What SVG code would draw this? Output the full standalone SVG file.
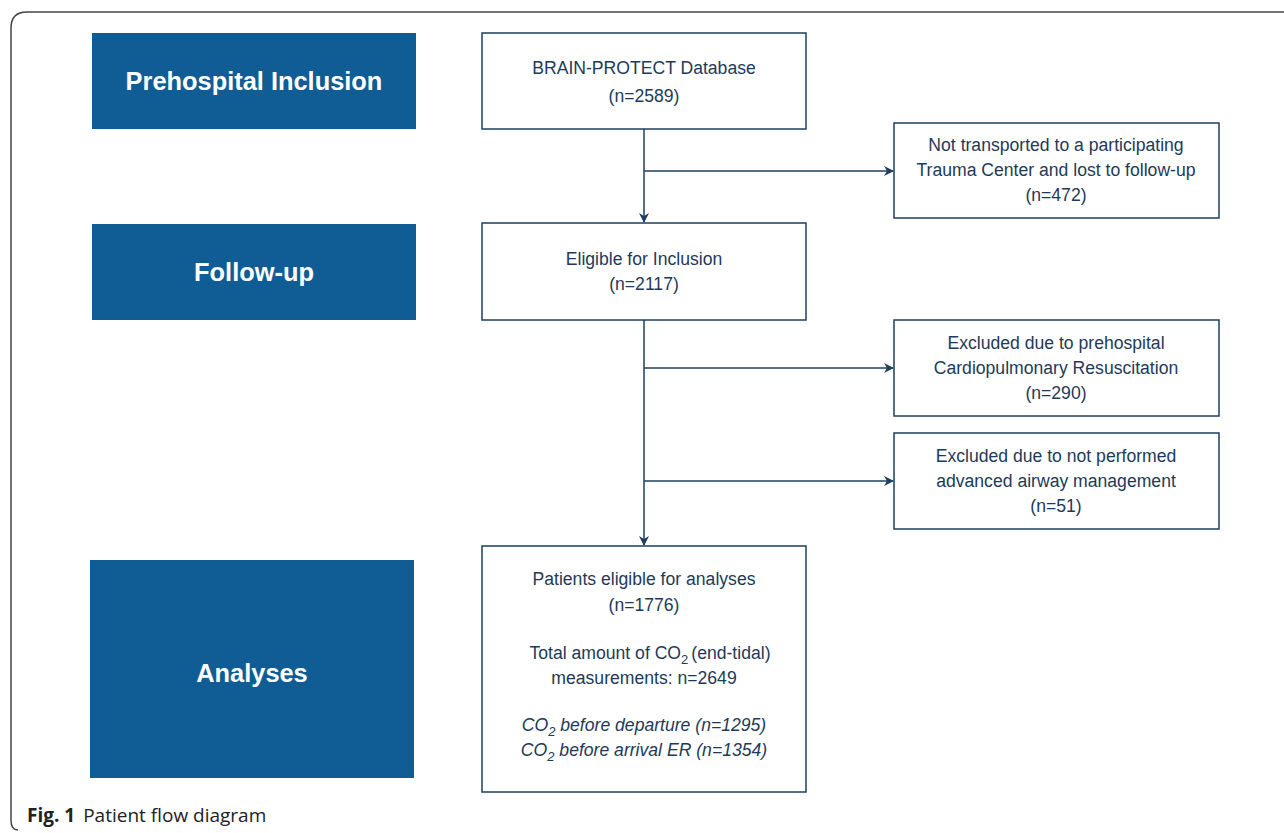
<svg xmlns="http://www.w3.org/2000/svg" width="1284" height="833" viewBox="0 0 1284 833">
<defs>
<style>
.phase{fill:#0f5d94}
.phase-t{font-family:"Liberation Sans",Arial,sans-serif;font-weight:bold;font-size:25.4px;fill:#ffffff;text-anchor:middle}
.box{fill:#ffffff;stroke:#1d3f60;stroke-width:1.5}
.t{font-family:"Liberation Sans",Arial,sans-serif;font-size:17.6px;fill:#1e3a58;text-anchor:middle}
.it{font-style:italic}
.conn{stroke:#1d3f60;stroke-width:1.5;fill:none}
.cap{font-family:"Open Sans","Noto Sans",sans-serif;font-size:19px;fill:#222}
</style>
<marker id="ah" viewBox="0 0 10 10" refX="9" refY="5" markerWidth="10" markerHeight="10" markerUnits="userSpaceOnUse" orient="auto">
<path d="M0,0 L10,5 L0,10 L3,5 Z" fill="#1d3f60"/>
</marker>
</defs>
<rect width="1284" height="833" fill="#ffffff"/>
<path d="M1290,12 L27,12 Q11,12 11,28 L11,820 Q11,830 18,830" fill="none" stroke="#444" stroke-width="1.5"/>

<g id="phase-prehospital"><rect class="phase" x="92" y="33" width="324" height="96"/><text class="phase-t" x="254" y="90">Prehospital Inclusion</text></g>
<g id="phase-followup"><rect class="phase" x="92" y="224" width="324" height="96"/><text class="phase-t" x="254" y="281">Follow-up</text></g>
<g id="phase-analyses"><rect class="phase" x="90" y="560" width="324" height="218"/><text class="phase-t" x="252" y="682">Analyses</text></g>

<g id="connectors">
<line class="conn" x1="644" y1="129" x2="644" y2="222" marker-end="url(#ah)"/>
<line class="conn" x1="644" y1="171" x2="893" y2="171" marker-end="url(#ah)"/>
<line class="conn" x1="644" y1="320" x2="644" y2="545" marker-end="url(#ah)"/>
<line class="conn" x1="644" y1="368" x2="893" y2="368" marker-end="url(#ah)"/>
<line class="conn" x1="644" y1="481" x2="893" y2="481" marker-end="url(#ah)"/>
</g>

<g id="node-database"><rect class="box" x="482" y="33" width="324" height="96"/>
<text class="t" x="644" y="74">BRAIN-PROTECT Database</text><text class="t" x="644" y="102">(n=2589)</text></g>

<g id="node-not-transported"><rect class="box" x="894" y="123" width="325" height="95"/>
<text class="t" x="1056" y="151">Not transported to a participating</text>
<text class="t" x="1056" y="176">Trauma Center and lost to follow-up</text>
<text class="t" x="1056" y="201">(n=472)</text></g>

<g id="node-eligible"><rect class="box" x="482" y="223" width="324" height="97"/>
<text class="t" x="644" y="265">Eligible for Inclusion</text><text class="t" x="644" y="290">(n=2117)</text></g>

<g id="node-cpr"><rect class="box" x="894" y="320" width="325" height="96"/>
<text class="t" x="1056" y="349">Excluded due to prehospital</text>
<text class="t" x="1056" y="374">Cardiopulmonary Resuscitation</text>
<text class="t" x="1056" y="399">(n=290)</text></g>

<g id="node-airway"><rect class="box" x="894" y="433" width="325" height="96"/>
<text class="t" x="1056" y="462">Excluded due to not performed</text>
<text class="t" x="1056" y="487">advanced airway management</text>
<text class="t" x="1056" y="512">(n=51)</text></g>

<g id="node-analyses"><rect class="box" x="482" y="546" width="324" height="246"/>
<text class="t" x="644" y="585">Patients eligible for analyses</text>
<text class="t" x="644" y="611">(n=1776)</text>
<text class="t" x="650" y="659">Total amount of CO<tspan font-size="13" dy="5">2</tspan><tspan dy="-5" dx="3">(end-tidal)</tspan></text>
<text class="t" x="644" y="684">measurements: n=2649</text>
<text class="t it" x="644" y="731">CO<tspan font-size="13" dy="5">2</tspan><tspan dy="-5"> before departure (n=1295)</tspan></text>
<text class="t it" x="644" y="756">CO<tspan font-size="13" dy="5">2</tspan><tspan dy="-5"> before arrival ER (n=1354)</tspan></text>
</g>

<text class="cap" x="27" y="822"><tspan font-weight="bold">Fig. 1</tspan><tspan dx="8">Patient flow diagram</tspan></text>
</svg>
